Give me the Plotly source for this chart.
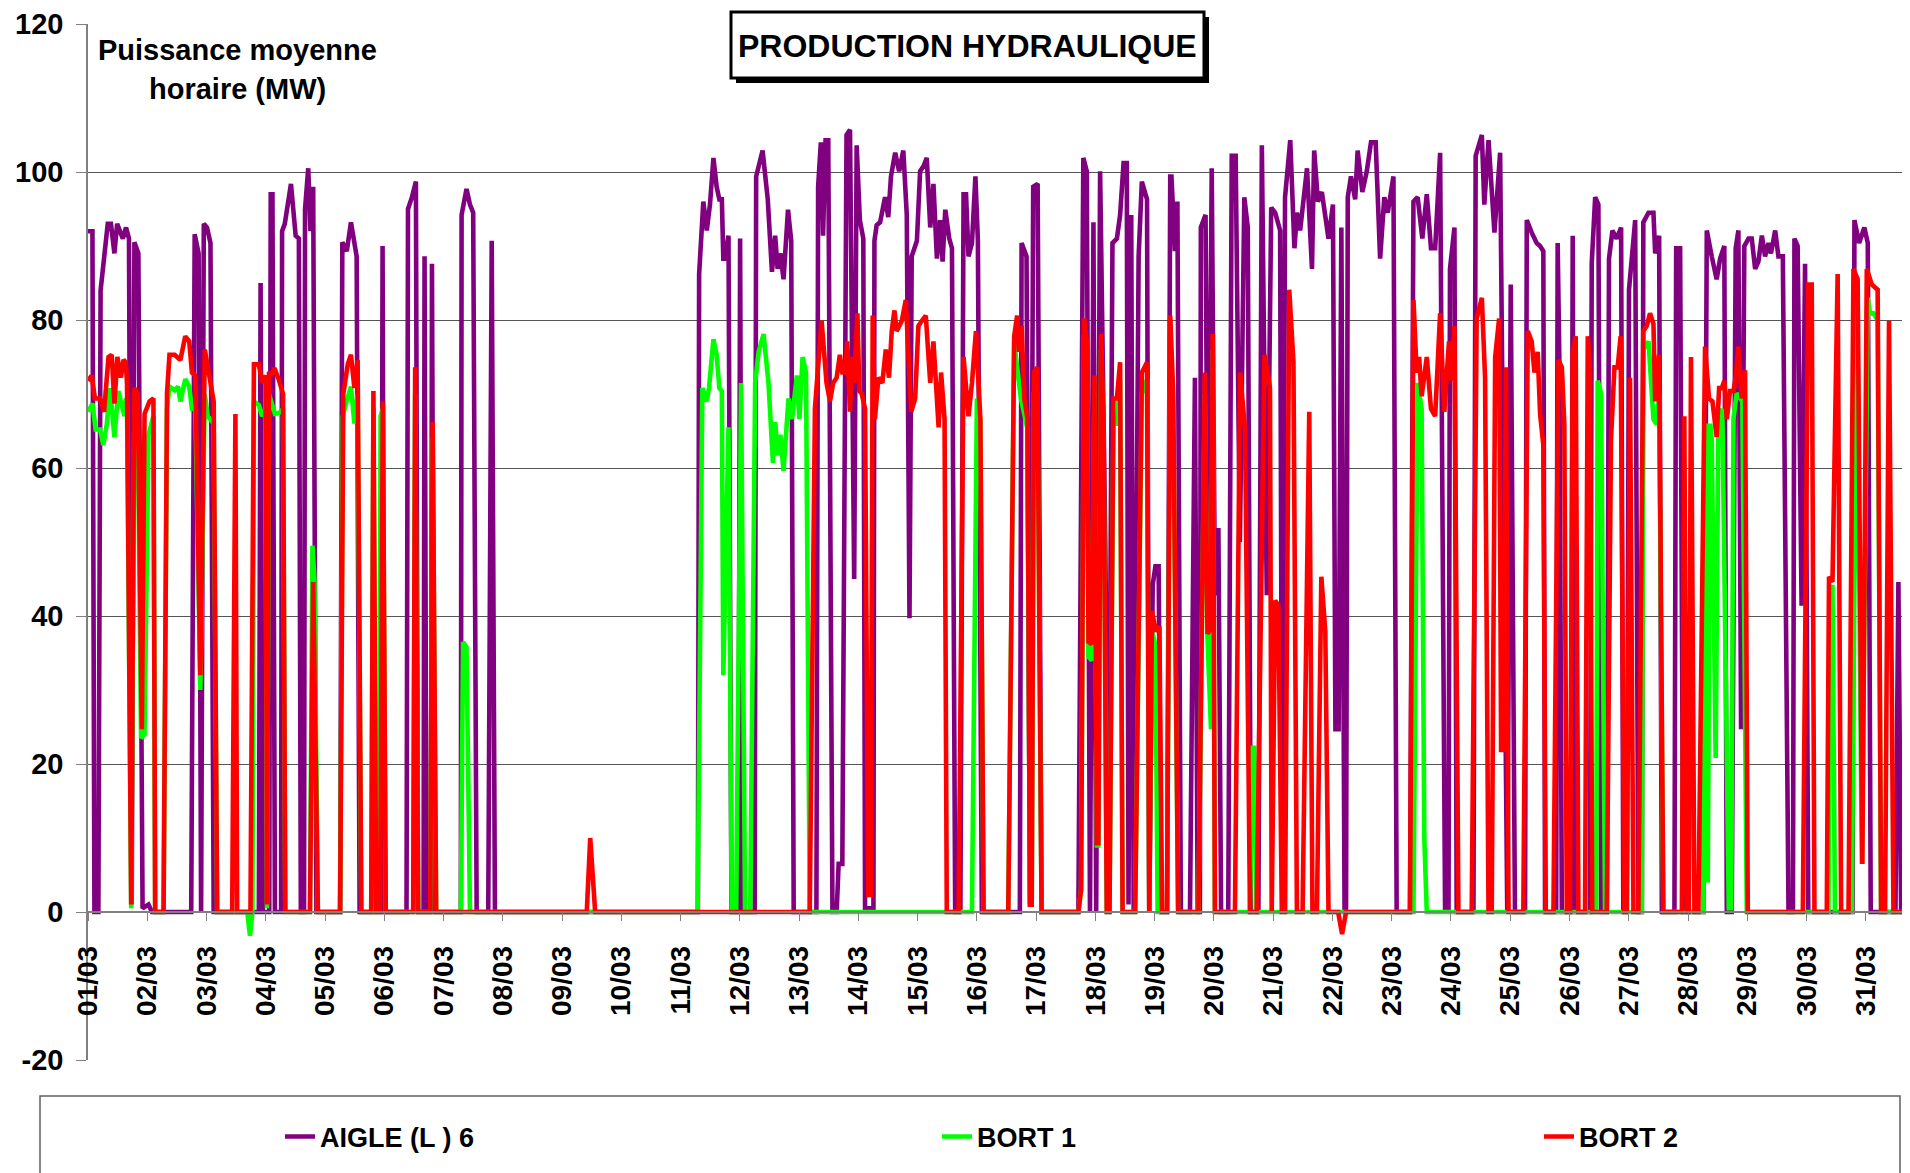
import numpy as np
import pandas as pd
import plotly.graph_objects as go

# ---- data: [hours since 01/03 00:00, MW] breakpoints ----
AIGLE_PTS = [
[0,92],[1.8,92],[2.6,0],[4.2,0],[5.1,84],[6.2,88],[8,93],[9.3,93],[10.7,89],[11.8,93],[13,92],[14.1,91],[15.4,92.5],[16.6,91],[17.7,1],[18.8,90.5],[20.4,89],[22.1,0.5],[24.5,1],[25.9,0],[41.8,0],[43.2,91.6],[44.8,89],[45.8,0],[46.9,93],[48.2,92.5],[49.6,90.4],[50.9,0],[69.2,0],[69.9,85],[70.8,0],[73.4,0],
[74.0,97],[74.7,97],[75.7,0],[78.2,0],[78.6,92],[79.7,93],[82.2,98.4],[84.1,91.4],[85.4,91],[86.2,0],[87.5,0],[87.9,95],[89.2,100.5],[90.1,92],[91.2,98],[92.5,0],[102.1,0],[103.0,90.5],[104.8,89.3],[106.5,93.2],[108.8,88.6],[110.0,0],[118.7,0],[119.3,90],[120.1,0],[129.0,0],[129.6,95],[131.2,96.6],[132.8,98.7],[133.7,0],[135.9,0],[136.3,88.6],[137.1,0],[138.9,0],[139.3,87.6],[140.3,0],
[151.0,0],[151.3,94.2],[153.3,97.7],[154.7,95.6],[156.0,94.5],[157.4,0],[162.1,0],[163.5,90.7],[164.8,0],
[247.0,0],[247.5,86.2],[249.2,96],[250.6,92.1],[251.9,95.6],[253.3,101.9],[254.6,98],[255.7,96.3],[256.7,96.3],[257.3,88.3],[258.0,88.3],[259.4,91.4],[260.6,0],[263.4,0],[264.1,91],[265.0,0],[270.0,0],[270.6,99.4],[273.2,102.9],[275.3,96.3],[277.0,86.5],[278.3,91.4],[279.3,86.9],[280.4,89],[281.7,85.5],[283.5,94.9],[284.8,90.7],[285.8,0],
[295.0,0],[295.7,98],[296.8,104],[297.7,91.4],[298.7,104.3],[299.8,104.3],[301.5,0],[303.2,0],[304.0,6.5],[305.5,6.5],[307.2,105],[308.6,105.7],[310.3,45],[311.3,103.6],[312.6,93.5],[314.0,91],[314.7,0.5],[318.1,0.5],[318.5,90.7],[319.4,92.8],[320.8,93.2],[322.8,96.6],[324.1,93.9],[325.2,99.4],[326.9,102.6],[328.5,100.1],[330.2,102.9],[331.6,94.2],[332.7,39.7],[333.6,88.6],[335.7,90.7],[337.0,100.1],[338.4,100.8],[339.7,101.9],[341.1,92.5],[342.4,98.4],[343.8,88.3],[345.1,93.5],[346.1,87.9],[347.2,94.9],[348.8,91],[349.9,89.7],[351.2,0],[353.3,0],[354.6,97],[355.6,97],[356.6,88.6],[358.0,90.4],[359.4,99.4],[360.4,90.7],[362.0,0],
[377.4,0],[378.1,90.4],[380.1,88.6],[381.5,1],[382.8,98],[384.6,98.4],[386.2,0],[401.1,0],[403.1,101.9],[404.5,100.1],[405.8,0],[407.2,93.2],[408.3,0],[409.9,100.1],[412.0,50],[413.3,0],[414.9,90.4],[416.7,91],[418.0,94.2],[419.4,101.2],[420.7,101.2],[421.4,1],[422.5,94.2],[423.5,0],[425.5,88.6],[426.8,98.7],[428.9,96.3],[429.8,0],[431.2,44.2],[432.3,46.7],[433.6,46.7],[434.7,0],[437.0,0],[438.3,99.4],
[438.8,99.4],[440.2,89.3],[441.2,96],[442.6,0],[446.3,0],[448.3,72.2],[449.4,0],[450.3,0],[450.7,92.5],[452.6,94.2],[453.7,37.2],[455.1,100.5],[456.4,42.8],[457.8,51.9],[458.9,0],[461.8,0],[463.2,102.2],[464.8,102.2],[466.5,50],[468.3,96.6],[469.7,92.5],[471.0,0],[474.0,0],[475.4,103.6],[477.4,42.8],[479.2,95.2],[480.8,94.5],[482.8,92.1],[483.7,0],[484.8,96.6],[486.9,104.3],[488.6,89.7],[489.6,94.5],[490.9,92.1],[493.7,100.5],[495.7,86.9],[496.6,102.9],[498.1,96],[499.7,97.3],[501.1,94.2],[502.4,91],[504.2,95.6],[505.2,24.7],[506.5,24.7],[507.6,92.5],[508.9,0],[509.5,0],
[510.2,96.6],[511.5,99.4],[513.2,96.3],[514.2,102.9],[516.1,97.3],[517.9,100.1],[519.6,104],[521.5,104],[523.3,88.3],[525.0,96.6],[526.4,94.5],[528.7,99.4],[530.0,0],[535.4,0],[536.8,96],[538.5,96.6],[540.4,91],[542.2,97],[543.9,89.7],[545.6,89.7],[547.6,102.6],[549.6,0.5],[551.0,0.5],[551.6,86.9],[553.4,92.5],[554.3,0],[561.1,0],[562.0,102.2],[564.5,105],[565.5,95.6],[567.2,104.3],[569.6,91.8],[571.9,102.6],[574.8,0],[576.2,84.8],[577.9,0],[582.0,0],
[582.7,93.5],[584.7,91.8],[586.7,90.4],[588.1,90],[589.4,89.3],[590.1,0],[594.6,0],[595.2,90.4],[595.9,74.3],[596.9,0],[600.6,0],[601.3,91.4],[602.0,0],[608.3,0],[609.0,87.6],[610.4,96.6],[611.7,95.6],[612.8,0],[615.1,0],[616.0,88.3],[617.4,92.1],[619.1,91],[620.9,92.5],[621.8,0],[623.2,0],[624.1,84.1],[626.6,93.5],[627.9,0],[629.3,0],[629.9,93.2],[632.0,94.5],[634.0,94.5],[634.7,89],[636.3,91.4],[637.4,0],[642.5,0],[643.2,89.7],[644.8,89.7],[646.1,0],[654.2,0],
[655.6,92.1],[657.6,88.6],[659.6,85.5],[661.0,88.3],[662.7,90],[663.7,0],[665.7,0],[667.3,89.7],[668.4,92.1],[669.5,24.7],[670.8,90],[672.5,91],[673.8,91],[675.2,86.9],[676.5,87.9],[677.9,91.4],[679.2,88.6],[680.6,90.4],[681.6,89],[683.3,92.1],[684.6,88.6],[686.4,88.6],[688.7,0],[690.5,0],[691.1,91],[692.4,90],[694.0,41.4],[695.4,87.6],[696.7,0],[714.6,0],[715.4,93.5],[717.3,90.4],[719.4,92.5],[720.8,90.4],[722.0,0],[732.0,0],[733.2,44.6],[734.3,0],[743,0]]

BORT1_PTS = [
[0,67.6],[1.8,68.7],[3.1,65.2],[4.9,65.2],[6.2,63.1],[7.6,65.9],[8.9,70.8],[10.7,64.2],[12.3,70.4],[13.7,68.7],[14.8,67],[15.3,69.4],[15.8,69],[17.5,0.5],[18.7,65],[20.2,64],[21.5,23.5],[22.9,24],[24.5,64.5],[26.5,67],[27.2,0],[30.6,0],[32.0,68],[33.0,71],[35.1,70.5],[36.5,71],[37.4,69],[39.4,72],[41.0,71],[42.1,68],[43.5,68],[45.5,30],[47.3,70],[48.5,67],[50.9,66],[52.3,0],[64.5,0],[65.6,-3.2],[66.6,0],[67.2,69],[69.2,68.5],[70.5,67],[71.9,68],[72.5,0.5],[73.3,70],
[75.7,67.3],[77.7,67.5],[79.0,68],[79.9,0],[89.9,0],[90.9,49.5],[91.7,45],[93.1,0],[102.1,0],[103.2,67],[104.7,69],[106.5,71],[107.9,66],[109.2,70],[110.7,0],[114.7,0],[115.6,68],[116.7,0],[117.9,0],[118.5,67],[119.4,68],[120.6,0],[131.7,0],[132.5,70],[133.7,0],[138.6,0],[139.6,64],[141.0,0],
[151.0,0],[151.9,36.5],[153.3,35.8],[154.7,0],
[246.9,0],[248.8,70.8],[250.6,69],[251.5,70.8],[253.3,77.4],[254.6,75.3],[255.7,70.8],[256.7,70.4],[257.3,32],[259.4,65.5],[260.7,0],[262.5,0],[264.5,71.5],[266.1,0],[268.2,0],[270.2,71.5],[271.6,75.7],[273.6,78.1],[275.6,71.5],[277.4,60.7],[278.3,66.2],[279.4,61.7],[280.4,64.5],[281.7,59.6],[283.7,69.4],[285.1,66.6],[287.1,72.5],[288.1,66.6],[289.4,75],[290.8,72.9],[292.3,0],
[358.0,0],[360.0,69.4],[361.4,66.6],[362.7,0],
[372.7,0],[375.1,77],[376.7,71.8],[377.8,69.4],[379.2,67.3],[380.5,65.2],[381.5,1],[382.2,1],[383.1,70],[384.5,70],[386.2,0],[401.1,0],[402.2,3],[403.4,78],[404.5,75],[405.2,34.5],[406.5,34],[407.6,70],[408.6,9],[409.2,9],[410.3,76],[411.3,63],[412.6,0],[413.7,0],[415.3,66],[416.7,66],[418.0,72],[419.0,0],[424.1,0],[426.8,70],[428.9,72],[429.8,0],[430.9,38],[432.3,36],[433.2,0],[437.0,0],[438.3,78],[439.5,68],[441.5,0],[449.7,0],[452.3,70],[453.4,37],[454.8,24.7],[455.5,76],[456.4,0],[470.6,0],[471.6,22.2],[472.3,22.2],[473.3,0],
[536.8,0],[538.5,71.5],[540.1,68],[541.2,10],[542.2,0],
[610.8,0],[611.4,71.8],[612.8,70.1],[614.4,0],[629.3,0],[629.9,76],[632.0,77.1],[634.0,66.6],[635.3,65.9],[636.3,70],[638.0,0],
[654.2,0],[655.2,66],[656.0,4],[657.0,66],[657.6,63.8],[659.2,20.8],[660.3,66.6],[661.9,68],[663.0,40],[664.5,0.5],[665.5,0.5],[666.4,66.6],[667.7,70.1],[669.1,69.4],[670.0,69],[671.8,0],[704.9,0],[705.5,43.9],[706.5,43.9],[707.5,0],[714.3,0],[716.3,82.7],[718.4,6.5],[720.8,83],[721.7,80.9],[723.1,80.9],[724.8,80],[726.2,0],[743,0]]

BORT2_PTS = [
[0,71.8],[1.5,72.5],[2.8,69.4],[4.9,69.4],[6.5,67.6],[8.3,75],[9.6,75.3],[10.7,68.7],[11.9,75],[13.3,72.2],[14.4,74.6],[15.3,74.3],[15.8,71.5],[17.5,1],[18.7,70.8],[20.2,70.1],[21.8,24.7],[22.9,67.3],[24.9,69],[26.5,69.4],[27.2,0],[30.6,0],[32.0,70.1],[33.0,75.3],[35.1,75.3],[37.4,74.6],[39.4,77.8],[41.0,77.1],[42.1,72.9],[43.5,72.5],[45.5,32],[47.3,76],[50.9,69],[52.3,0],[58.4,0],[59.7,67.3],[60.4,0],[65.8,0],[67.2,74],[69.2,74],[70.5,71.5],[71.9,72.5],[72.5,1],[73.3,73],
[74.2,72.5],[75.5,73.5],[77.2,72],[79.0,70],[79.9,0],[89.9,0],[91.2,44.6],[93.1,0],[102.1,0],[103.4,70],[105.2,74],[106.5,75.3],[107.9,70.8],[109.2,74.6],[110.7,0],[114.7,0],[115.6,70.4],[116.7,0],[118.3,0],[119.4,69],[120.6,0],[131.7,0],[132.5,73.6],[133.7,0],[138.6,0],[139.6,66.2],[141.0,0],
[202.0,0],[203.4,10],[205.4,0],
[292.3,0],[294.4,68],[297.1,79.9],[299.1,71.5],[300.5,69],[301.8,71.5],[303.2,72.2],[304.5,75.3],[305.5,72.9],[306.6,72.9],[307.5,77.1],[308.6,67.6],[309.5,75],[310.3,71.5],[311.6,80.9],[312.4,70.4],[313.3,70.1],[314.7,68],[316.0,2.3],[317.0,2.3],[317.8,80.6],[318.7,66.6],[320.1,72.2],[321.7,71.5],[323.1,76],[324.4,72.2],[325.5,78.5],[326.6,81.3],[327.5,78.5],[329.6,79.9],[331.2,82.7],[333.4,67.6],[335.0,69.4],[336.3,79.2],[337.7,79.9],[339.3,80.6],[341.1,71.5],[342.4,77.1],[344.5,65.5],[345.5,72.9],[346.9,66.6],[347.8,0],[352.6,0],[354.6,75],[356.6,67],[358.0,71.5],[359.6,78.5],[361.4,66.6],[362.7,0],
[372.7,0],[375.1,77.8],[376.3,80.6],[377.1,75.7],[378.1,79.2],[379.2,69.4],[380.5,66.6],[381.5,1],[382.2,1],[383.1,72.9],[384.5,73.6],[386.2,0],[401.1,0],[402.2,3],[403.4,80.2],[404.5,77.1],[405.2,36.5],[406.5,36.2],[407.6,72.5],[408.6,9.3],[409.2,9.3],[410.3,78.1],[411.3,65.2],[412.6,0],[413.7,0],[415.3,69.4],[416.7,69.4],[418.0,74.3],[419.0,0],[424.1,0],[426.8,72.9],[428.9,74.3],[429.8,0],[430.9,40.7],[432.5,37.9],[433.9,38.6],[435.0,0],[437.0,0],[438.3,80.6],[439.5,70.1],[441.5,0],[449.7,0],[452.3,72.9],[453.4,37.6],[454.8,38.3],[455.5,78.1],[456.4,0],[464.5,0],[466.6,72.9],[468.6,65.2],[470.6,0],[473.3,0],[476.5,75.3],[478.7,70.8],[479.4,0],[480.8,42.1],[482.1,41.4],[483.5,0],[484.8,0],[486.5,84.1],[488.2,74.3],[489.6,0],[491.9,0],[494.6,67.6],[495.9,0],[497.7,0],[499.5,45.3],[501.1,37.9],[502.4,0],[506.3,0],[507.9,-3],[509.5,0],
[535.4,0],[536.8,82.7],[538.1,72.9],[539.1,75],[540.1,69.7],[542.2,75],[543.9,68],[545.6,67],[547.6,80.9],[549.3,67.6],[551.2,77.1],[552.3,71.8],[553.4,79.2],[555.0,0],[560.4,0],[562.4,80.2],[564.5,83],[565.8,72.2],[567.2,0],[568.5,0],[569.9,75],[571.5,80.2],[572.3,21.9],[573.2,21.9],[574.3,73.6],[575.3,0],[581.3,0],
[583.1,78.5],[584.7,77.1],[585.8,72.9],[587.1,75.7],[588.1,67.3],[589.4,63.1],[590.4,0],[593.5,0],[595.5,74.6],[596.9,73.6],[597.9,65.9],[598.9,0],[600.2,0],[601.3,75.7],[602.5,77.8],[603.6,0],[606.3,0],[607.4,77.8],[608.3,73.6],[609.2,0],[615.1,0],[616.8,63.8],[618.2,73.6],[619.5,73.6],[620.7,77.8],[622.2,0],[623.2,0],[624.5,72.2],[625.9,0],[627.9,0],[629.9,78.5],[631.3,79.2],[632.6,80.9],[634.0,79.5],[634.7,69],[636.3,75.3],[638.0,0],[645.5,0],[646.5,67],[647.5,0],[648.3,0],[649.2,75],[650.6,0],[652.2,0],
[654.9,76.4],[656.5,69.4],[657.9,69],[659.6,64.2],[660.6,70.8],[661.7,70.8],[662.7,71.8],[663.7,66.6],[665.0,70.4],[666.4,70.4],[667.3,72.2],[668.4,76.4],[669.7,69.4],[671.1,73.2],[672.2,0],[694.5,0],[696.7,84.8],[698.1,84.8],[699.2,0],[704.2,0],[705.1,45.3],[706.5,44.6],[708.6,86.2],[710.0,0],[713.0,0],[715.0,86.9],[716.7,85.5],[718.6,6.5],[720.4,86.9],[722.4,84.8],[724.8,84.1],[726.2,0],[727.8,0],[729.4,79.9],[731.2,0],[743,0]]

SERIES_NAMES = ["AIGLE (L ) 6", "BORT 1", "BORT 2"]
SERIES_COLORS = ["#800080", "#00FF00", "#FF0000"]
START = pd.Timestamp("2009-03-01 00:00")
X_END_HOURS = 737.9
Y_TICKS = [-20, 0, 20, 40, 60, 80, 100, 120]
Y_TICK_TEXT = ["-20", "0", "20", "40", "60", "80", "100", "120"]

FONT = "Liberation Sans, Arial, sans-serif"

def to_xy(pts):
    a = np.array(pts, dtype=float)
    x = START + pd.to_timedelta(a[:, 0], unit="h")
    return x, a[:, 1]

fig = go.Figure()
legends = ["legend", "legend2", "legend3"]
for pts, name, col, lg in zip([AIGLE_PTS, BORT1_PTS, BORT2_PTS], SERIES_NAMES, SERIES_COLORS, legends):
    x, y = to_xy(pts)
    fig.add_trace(go.Scatter(x=x, y=y, mode="lines", name=name,
                             line=dict(color=col, width=4.6), legend=lg))

# page has an 8px body margin around the figure
BODY = 8
W, H = 1910 - BODY, 1173 - BODY
ML, MT, MB = 88 - BODY, 24 - BODY, 113
plot_w = W - ML
plot_h = H - MT - MB

def px_x(page_px):
    return (page_px - BODY - ML) / plot_w

def px_y(page_py):
    return (H - MB - (page_py - BODY)) / plot_h

legfont = dict(family=FONT, size=27, color="black", weight="bold")
fig.update_layout(
    width=W, height=H, autosize=False,
    margin=dict(l=ML, r=0, t=MT, b=MB, pad=0, autoexpand=False),
    paper_bgcolor="white", plot_bgcolor="white",
    showlegend=True,
    legend=dict(x=px_x(280), y=px_y(1137), xanchor="left", yanchor="middle",
                font=legfont, bgcolor="rgba(0,0,0,0)"),
    legend2=dict(x=px_x(937), y=px_y(1137), xanchor="left", yanchor="middle",
                 font=legfont, bgcolor="rgba(0,0,0,0)"),
    legend3=dict(x=px_x(1539), y=px_y(1137), xanchor="left", yanchor="middle",
                 font=legfont, bgcolor="rgba(0,0,0,0)"),
    xaxis=dict(
        type="date",
        range=[START, START + pd.Timedelta(hours=X_END_HOURS)],
        tick0=START, dtick=86400000, tickformat="%d/%m",
        tickangle=-90, ticks="outside", ticklen=8, tickcolor="#808080",
        ticklabelstandoff=14,
        tickfont=dict(family=FONT, size=28, color="black", weight="bold"),
        showgrid=False, showline=True, linecolor="#808080", linewidth=1.5,
        anchor="free", position=20 / 140, zeroline=False,
    ),
    yaxis=dict(
        range=[-20, 120], tickmode="array", tickvals=Y_TICKS, ticktext=Y_TICK_TEXT,
        ticks="outside", ticklen=10, tickcolor="#808080", ticklabelstandoff=7,
        tickfont=dict(family=FONT, size=29, color="black", weight="bold"),
        showgrid=True, gridcolor="#555555", gridwidth=1.2,
        showline=True, linecolor="#808080", linewidth=1.5,
        zeroline=False,
    ),
)

# legend frame
fig.add_shape(type="rect", xref="paper", yref="paper",
              x0=px_x(40), x1=px_x(1900), y0=px_y(1200), y1=px_y(1096),
              line=dict(color="#606060", width=1.5), fillcolor="rgba(0,0,0,0)")

# y-axis caption (white box + two text lines)
fig.add_shape(type="rect", xref="paper", yref="paper",
              x0=px_x(89), x1=px_x(385), y0=px_y(116), y1=px_y(14),
              line=dict(width=0), fillcolor="white", layer="above")
fig.add_annotation(xref="paper", yref="paper", x=px_x(237), y=px_y(50),
                   xanchor="center", yanchor="middle", text="<b>Puissance moyenne</b>",
                   showarrow=False, font=dict(family=FONT, size=29, color="black"))
fig.add_annotation(xref="paper", yref="paper", x=px_x(237), y=px_y(89),
                   xanchor="center", yanchor="middle", text="<b>horaire (MW)</b>",
                   showarrow=False, font=dict(family=FONT, size=29, color="black"))

# title box with shadow (shapes) and title text
fig.add_shape(type="rect", xref="paper", yref="paper",
              x0=px_x(736), x1=px_x(1209), y0=px_y(83), y1=px_y(17),
              line=dict(color="black", width=0), fillcolor="black", layer="above")
fig.add_shape(type="rect", xref="paper", yref="paper",
              x0=px_x(731), x1=px_x(1204), y0=px_y(78), y1=px_y(12),
              line=dict(color="black", width=3), fillcolor="white", layer="above")
fig.add_annotation(xref="paper", yref="paper", x=px_x(967), y=px_y(46),
                   xanchor="center", yanchor="middle", text="<b>PRODUCTION HYDRAULIQUE</b>",
                   showarrow=False, font=dict(family=FONT, size=32, color="black"))

fig.write_html("out.html")
